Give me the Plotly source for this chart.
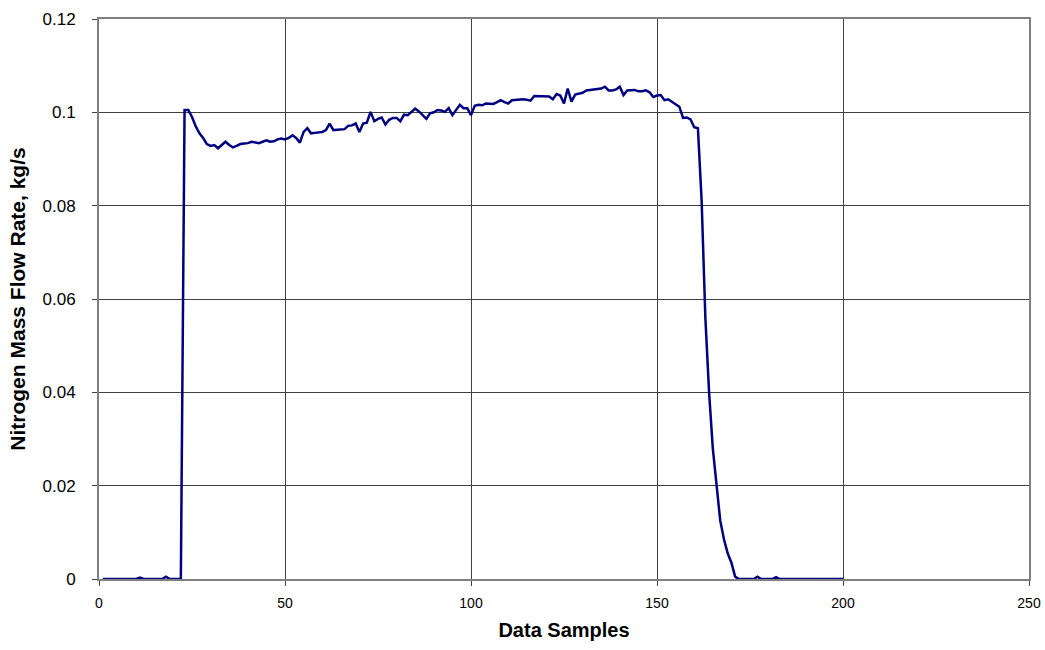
import plotly.graph_objects as go

samples = list(range(1, 201))

pre_flow = [0, 0, 0, 0, 0, 0, 0, 0, 0, 0, 0.0003, 0, 0, 0, 0, 0, 0, 0.0005, 0, 0, 0, 0]
steady_flow = [
    0.1005, 0.1005, 0.0990, 0.0970, 0.0955, 0.0945, 0.0932, 0.0928, 0.0930, 0.0923,
    0.0930, 0.0937, 0.0930, 0.0925, 0.0928, 0.0932, 0.0933, 0.0934, 0.0937, 0.0936,
    0.0934, 0.0937, 0.0940, 0.0937, 0.0938, 0.0942, 0.0944, 0.0942, 0.0945, 0.0951,
    0.0945, 0.0935, 0.0958, 0.0966, 0.0955, 0.0956, 0.0957, 0.0958, 0.0962, 0.0976,
    0.0962, 0.0963, 0.0964, 0.0964, 0.0971, 0.0972, 0.0976, 0.0958, 0.0976, 0.0978,
    0.1001, 0.0981, 0.0986, 0.0989, 0.0974, 0.0984, 0.0988, 0.0988, 0.0981, 0.0995,
    0.0994, 0.1000, 0.1008, 0.1002, 0.0993, 0.0986, 0.0998, 0.1000, 0.1005, 0.1004,
    0.1001, 0.1009, 0.0994, 0.1005, 0.1016, 0.1009, 0.1009, 0.0994, 0.1014, 0.1016,
    0.1015, 0.1019, 0.1018, 0.1018, 0.1022, 0.1026, 0.1022, 0.1019, 0.1026, 0.1027,
    0.1028, 0.1028, 0.1027, 0.1025, 0.1035, 0.1035, 0.1035, 0.1035, 0.1034, 0.1028,
    0.1039, 0.1036, 0.1019, 0.1051, 0.1023, 0.1038, 0.1040, 0.1042, 0.1047, 0.1048,
    0.1049, 0.1050, 0.1051, 0.1055, 0.1047, 0.1047, 0.1049, 0.1055, 0.1037, 0.1047,
    0.1047, 0.1048, 0.1045, 0.1045, 0.1047, 0.1043, 0.1033, 0.1036, 0.1037, 0.1026,
    0.1028, 0.1023, 0.1018, 0.1012, 0.0988, 0.0989, 0.0985, 0.0968, 0.0966,
]
decay_flow = [0.0810, 0.0560, 0.0400, 0.0280, 0.0200, 0.0125, 0.0085, 0.0055, 0.0035, 0.0005]
post_flow = [0, 0, 0, 0, 0, 0.0005, 0, 0, 0, 0, 0.0004, 0, 0, 0, 0, 0, 0, 0, 0, 0,
             0, 0, 0, 0, 0, 0, 0, 0, 0]

flow_rate = pre_flow + steady_flow + decay_flow + post_flow
flow_rate = flow_rate[:len(samples)]
samples = samples[:len(flow_rate)]

x_ticks = [0, 50, 100, 150, 200, 250]
y_ticks = [0, 0.02, 0.04, 0.06, 0.08, 0.1, 0.12]
y_tick_text = ["0", "0.02", "0.04", "0.06", "0.08", "0.1", "0.12"]

fig = go.Figure()
fig.add_trace(go.Scatter(
    x=samples, y=flow_rate, mode="lines",
    line=dict(color="#000080", width=2.5),
    showlegend=False,
))

fig.update_layout(
    width=1045, height=650,
    margin=dict(l=99, r=16, t=19, b=71, autoexpand=False),
    paper_bgcolor="white", plot_bgcolor="white",
    font=dict(family="Arial, Liberation Sans, sans-serif", size=13, color="black"),
    xaxis=dict(
        range=[0, 250], tickvals=x_ticks, ticktext=[str(v) for v in x_ticks],
        showgrid=True, gridcolor="#404040", gridwidth=1,
        zeroline=False, showline=True, linecolor="#808080", linewidth=2, mirror=True,
        ticks="outside", ticklen=5, tickcolor="#404040",
        tickfont=dict(size=14), ticklabelstandoff=5, automargin=False,
        title=dict(text="<b>Data Samples</b>", font=dict(size=20), standoff=13),
    ),
    yaxis=dict(
        range=[0, 0.12], tickvals=y_ticks, ticktext=y_tick_text,
        showgrid=True, gridcolor="#404040", gridwidth=1,
        zeroline=False, showline=True, linecolor="#808080", linewidth=2, mirror=True,
        ticks="outside", ticklen=5, tickcolor="#404040",
        tickfont=dict(size=17), ticklabelstandoff=13, automargin=False,
        title=dict(text="<b>Nitrogen Mass Flow Rate, kg/s</b>", font=dict(size=21), standoff=11),
    ),
)

fig.write_html(
    "out.html",
    config={"displayModeBar": False},
    post_script="document.body.style.margin='0';document.body.style.overflow='hidden';",
)
